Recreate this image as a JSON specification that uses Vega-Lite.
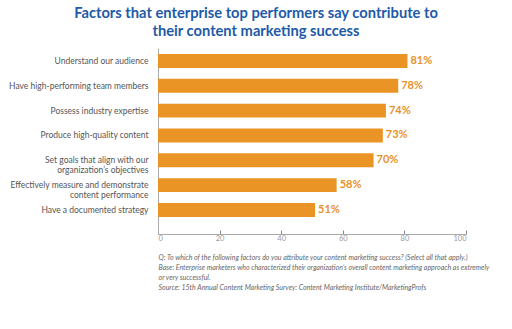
{
  "$schema": "https://vega.github.io/schema/vega-lite/v6.json",
  "autosize": "none",
  "width": 308,
  "height": 186,
  "padding": {"left": 158, "top": 48, "right": 46, "bottom": 95},
  "background": "white",
  "title": {
    "text": ["Factors that enterprise top performers say contribute to", "their content marketing success"],
    "font": "Lato",
    "fontSize": 14.7,
    "fontWeight": "bold",
    "color": "#1E5AA8",
    "anchor": "middle",
    "dx": -56,
    "offset": 9,
    "lineHeight": 18
  },
  "data": {
    "values": [
      {"factor": "Understand our audience", "pct": 81, "label": "81%"},
      {"factor": "Have high-performing team members", "pct": 78, "label": "78%"},
      {"factor": "Possess industry expertise", "pct": 74, "label": "74%"},
      {"factor": "Produce high-quality content", "pct": 73, "label": "73%"},
      {"factor": "Set goals that align with our\norganization’s objectives", "pct": 70, "label": "70%"},
      {"factor": "Effectively measure and demonstrate\ncontent performance", "pct": 58, "label": "58%"},
      {"factor": "Have a documented strategy", "pct": 51, "label": "51%"}
    ]
  },
  "encoding": {
    "y": {
      "field": "factor",
      "type": "nominal",
      "sort": null,
      "scale": {"paddingInner": 0.44, "paddingOuter": 0.465, "align": 0.26},
      "axis": {
        "title": null,
        "labelExpr": "split(datum.label, '\\n')",
        "labelFont": "Lato",
        "labelFontSize": 8.5,
        "labelColor": "#555555",
        "labelPadding": 10,
        "labelLineHeight": 10,
        "ticks": false,
        "domainColor": "#aaaaaa",
        "labelLimit": 200
      }
    },
    "x": {
      "field": "pct",
      "type": "quantitative",
      "scale": {"domain": [0, 100], "nice": false},
      "axis": {
        "values": [0, 20, 40, 60, 80, 100],
        "grid": false,
        "tickSize": -4,
        "tickColor": "#888888",
        "domainColor": "#aaaaaa",
        "labelFont": "Lato",
        "labelFontSize": 7.5,
        "labelColor": "#999999",
        "labelPadding": 4,
        "title": [
          "Q: To which of the following factors do you attribute your content marketing success? (Select all that apply.)",
          "Base: Enterprise marketers who characterized their organization’s overall content marketing approach as extremely",
          "or very successful.",
          "Source: 15th Annual Content Marketing Survey: Content Marketing Institute/MarketingProfs"
        ],
        "titleFont": "Lato",
        "titleFontSize": 7,
        "titleFontStyle": "italic",
        "titleFontWeight": "normal",
        "titleColor": "#666666",
        "titleAnchor": "start",
        "titleAlign": "left",
        "titleBaseline": "alphabetic",
        "titleX": 0,
        "titleY": 25,
        "titleLineHeight": 10
      }
    }
  },
  "layer": [
    {"mark": {"type": "bar", "color": "#EA9426"}},
    {
      "mark": {"type": "text", "align": "left", "dx": 3, "font": "Lato", "fontSize": 11, "fontWeight": "bold", "color": "#E8912A"},
      "encoding": {"text": {"field": "label", "type": "nominal"}}
    }
  ],
  "config": {"view": {"stroke": null}}
}
